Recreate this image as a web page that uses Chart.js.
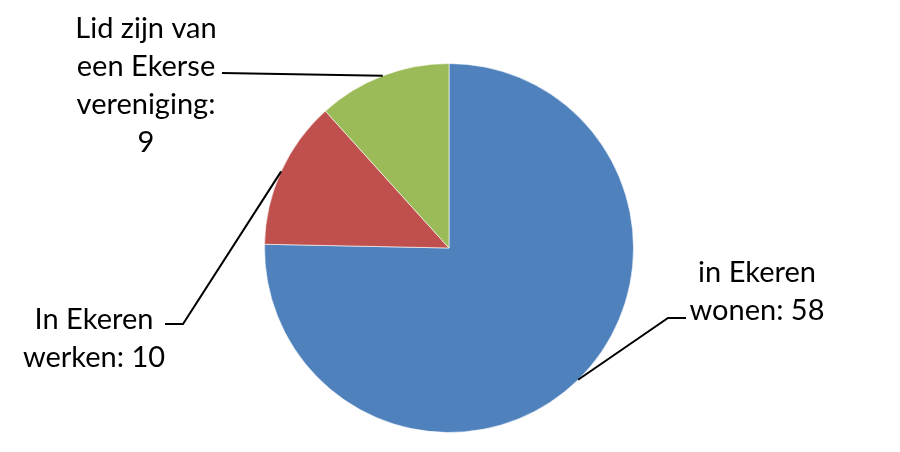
<!DOCTYPE html>
<html>
<head>
<meta charset="utf-8">
<script src="https://cdn.jsdelivr.net/npm/chart.js@4"></script>
<style>
  html, body { margin: 0; padding: 0; background: #fff; }
  #wrap { width: 900px; height: 452px; }
</style>
</head>
<body>
<div id="wrap"><canvas id="pieChart"></canvas></div>
<script>
// data
const categories = [
  ["in Ekeren", "wonen: 58"],
  ["In Ekeren", "werken: 10"],
  ["Lid zijn van", "een Ekerse", "vereniging:", "9"]
];
const values = [58, 10, 9];
const colors = ["#4F81BD", "#C0504D", "#9BBB59"];

// where each label sits: elbow of the leader line, text centre, first line y
const labelLayout = [
  { elbow: [668, 318], end: [686, 318], textX: 757, textY: 273 },
  { elbow: [183, 324], end: [165, 324], textX: 94, textY: 320 },
  { elbow: [222, 73], end: [222, 73], textX: 146, textY: 29 }
];

// Leader lines + labels
const leaderLabels = {
  id: "leaderLabels",
  afterDatasetsDraw(chart) {
    const ctx = chart.ctx;
    const arcs = chart.getDatasetMeta(0).data;
    ctx.save();
    ctx.font = "29px Lato";
    ctx.fillStyle = "#000";
    ctx.strokeStyle = "#000";
    ctx.lineWidth = 2;
    ctx.textAlign = "center";
    ctx.textBaseline = "middle";
    arcs.forEach((arc, i) => {
      const p = arc.getProps(["x", "y", "startAngle", "endAngle", "outerRadius"], true);
      const mid = (p.startAngle + p.endAngle) / 2;
      const sx = p.x + Math.cos(mid) * p.outerRadius;
      const sy = p.y + Math.sin(mid) * p.outerRadius;
      const lay = labelLayout[i];
      ctx.beginPath();
      ctx.moveTo(sx, sy);
      ctx.lineTo(lay.elbow[0], lay.elbow[1]);
      ctx.lineTo(lay.end[0], lay.end[1]);
      ctx.stroke();
      categories[i].forEach((line, j) => {
        ctx.fillText(line, lay.textX, lay.textY + j * 38);
      });
    });
    ctx.restore();
  }
};

new Chart(document.getElementById("pieChart").getContext("2d"), {
  type: "pie",
  data: {
    labels: categories.map(c => c.join(" ")),
    datasets: [
      {
        data: values,
        backgroundColor: colors,
        borderColor: "rgba(255,255,255,0.6)",
        borderWidth: 1
      }
    ]
  },
  options: {
    responsive: true,
    maintainAspectRatio: false,
    animation: false,
    layout: { padding: { top: 63, bottom: 19, left: 0, right: 2 } },
    plugins: {
      legend: { display: false },
      tooltip: { enabled: false }
    }
  },
  plugins: [leaderLabels]
});
</script>
</body>
</html>
